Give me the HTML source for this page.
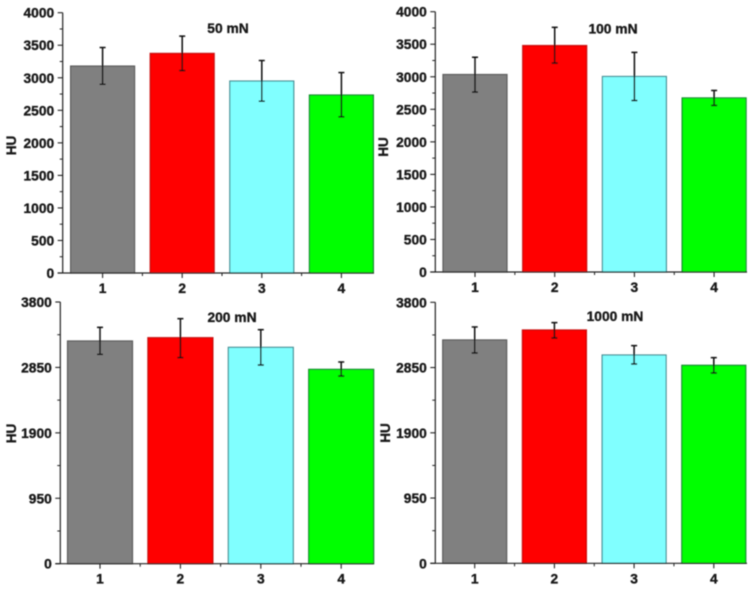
<!DOCTYPE html>
<html lang="en">
<head>
<meta charset="utf-8">
<title>HU by load</title>
<style>
html,body{margin:0;padding:0;background:#fff;width:755px;height:589px;overflow:hidden}
svg{display:block}
text{font-family:"Liberation Sans",sans-serif;font-weight:bold;fill:#141414;stroke:#141414;stroke-width:0.3}
</style>
</head>
<body>
<svg id="chart" xmlns="http://www.w3.org/2000/svg" width="755" height="589" viewBox="0 0 755 589">
<defs><filter id="soft" x="-2%" y="-2%" width="104%" height="104%"><feGaussianBlur stdDeviation="0.45"/></filter></defs>
<g id="root" filter="url(#soft)"></g>
</svg>
<script>
const categories = ["1", "2", "3", "4"];
const barColors = ["#808080", "#ff0000", "#80ffff", "#00ff00"];
const edgeColors = ["#5c5c5c", "#c81010", "#4a9096", "#178a2a"];

const titles = ["50 mN", "100 mN", "200 mN", "1000 mN"];
const panelKeys = ["50-mn", "100-mn", "200-mn", "1000-mn"];

const ticks4000 = [0, 500, 1000, 1500, 2000, 2500, 3000, 3500, 4000];
const ticks3800 = [0, 950, 1900, 2850, 3800];

const values50 = [3180, 3375, 2950, 2735];
const high50 = [3465, 3640, 3265, 3080];
const low50 = [2900, 3110, 2640, 2400];

const values100 = [3035, 3480, 3005, 2675];
const high100 = [3300, 3760, 3375, 2790];
const low100 = [2765, 3210, 2635, 2560];

const values200 = [3234, 3282, 3142, 2822];
const high200 = [3432, 3558, 3398, 2929];
const low200 = [3040, 2992, 2885, 2725];

const values1000 = [3252, 3397, 3033, 2883];
const high1000 = [3441, 3504, 3169, 2994];
const low1000 = [3062, 3281, 2902, 2771];

const NS = "http://www.w3.org/2000/svg";
const root = document.getElementById("root");

function make(tag, parent, props, text) {
  const el = document.createElementNS(NS, tag);
  for (const k in props) el.setAttribute(k, props[k]);
  if (text !== undefined) el.textContent = text;
  parent.appendChild(el);
  return el;
}

function drawPanel(cfg) {
  const yScale = v => cfg.y0 - (v / cfg.max) * (cfg.y0 - cfg.yTop);
  const xScale = i => cfg.x1 + i * cfg.step;

  const g = make("g", root, {});
  
  

  cfg.values.forEach((v, i) => {
    const bar = make("rect", g, {
      x: xScale(i) - cfg.barW / 2, y: yScale(v),
      width: cfg.barW, height: cfg.y0 - yScale(v),
      fill: barColors[i], stroke: edgeColors[i], "stroke-width": 1.2
    });
    
    
  });

  const axisColor = "#222";
  const yAxis = make("line", g, {x1: cfg.xAxis, x2: cfg.xAxis, y1: cfg.yTop, y2: cfg.y0, stroke: axisColor, "stroke-width": 1.2});
  
  
  const xAxis = make("line", g, {x1: cfg.xAxis - 5, x2: cfg.xEnd, y1: cfg.y0, y2: cfg.y0, stroke: axisColor, "stroke-width": 1.2});
  
  

  cfg.ticks.forEach((t, i) => {
    const y = yScale(t);
    make("line", g, {x1: cfg.xAxis - 5, x2: cfg.xAxis, y1: y, y2: y, stroke: axisColor, "stroke-width": 1.1});
    const label = make("text", g, {x: cfg.xAxis - 8.5, y: y + 5, "text-anchor": "end", "font-size": 13.8}, String(t));
    
    
    if (i < cfg.ticks.length - 1) {
      const m = yScale((t + cfg.ticks[i + 1]) / 2);
      make("line", g, {x1: cfg.xAxis - 3, x2: cfg.xAxis, y1: m, y2: m, stroke: axisColor, "stroke-width": 1});
    }
  });

  categories.forEach((c, i) => {
    const x = xScale(i);
    make("line", g, {x1: x, x2: x, y1: cfg.y0, y2: cfg.y0 + 5, stroke: axisColor, "stroke-width": 1.1});
    if (i < categories.length - 1) {
      const mx = x + cfg.step / 2;
      make("line", g, {x1: mx, x2: mx, y1: cfg.y0, y2: cfg.y0 + 3, stroke: axisColor, "stroke-width": 1});
    }
    const label = make("text", g, {x: x, y: cfg.y0 + 20, "text-anchor": "middle", "font-size": 13.8}, c);
    
    
  });

  cfg.values.forEach((v, i) => {
    const x = xScale(i);
    const hi = yScale(cfg.high[i]);
    const lo = yScale(cfg.low[i]);
    const eb = make("g", g, {stroke: "#111", "stroke-width": 1.5});
    
    
    make("line", eb, {x1: x, x2: x, y1: hi, y2: lo});
    make("line", eb, {x1: x - 3, x2: x + 3, y1: hi, y2: hi});
    make("line", eb, {x1: x - 3, x2: x + 3, y1: lo, y2: lo});
  });

  const title = make("text", g, {x: cfg.titleX, y: cfg.titleY, "text-anchor": "middle", "font-size": 13.8}, cfg.title);
  
  

  const yt = make("text", g, {
    transform: "translate(" + cfg.huX + " " + cfg.huY + ") rotate(-90)",
    "text-anchor": "middle", "font-size": 13.5
  }, "HU");
  
  
}

drawPanel({key: panelKeys[0], title: titles[0], values: values50, high: high50, low: low50, ticks: ticks4000, max: 4000,
  xAxis: 62.7, xEnd: 374, y0: 273, yTop: 12.7, x1: 102.6, step: 79.6, barW: 64, titleX: 228, titleY: 33, huX: 16, huY: 145.5});
drawPanel({key: panelKeys[1], title: titles[1], values: values100, high: high100, low: low100, ticks: ticks4000, max: 4000,
  xAxis: 435.3, xEnd: 747, y0: 272, yTop: 11.7, x1: 475, step: 79.7, barW: 64, titleX: 613, titleY: 33.5, huX: 388, huY: 147});
drawPanel({key: panelKeys[2], title: titles[2], values: values200, high: high200, low: low200, ticks: ticks3800, max: 3800,
  xAxis: 60.3, xEnd: 374, y0: 563.7, yTop: 302, x1: 100, step: 80.4, barW: 65, titleX: 232, titleY: 322, huX: 16, huY: 433.5});
drawPanel({key: panelKeys[3], title: titles[3], values: values1000, high: high1000, low: low1000, ticks: ticks3800, max: 3800,
  xAxis: 435.3, xEnd: 747, y0: 563.3, yTop: 302.3, x1: 474.7, step: 79.7, barW: 64, titleX: 615, titleY: 321, huX: 390, huY: 433});
</script>
</body>
</html>
